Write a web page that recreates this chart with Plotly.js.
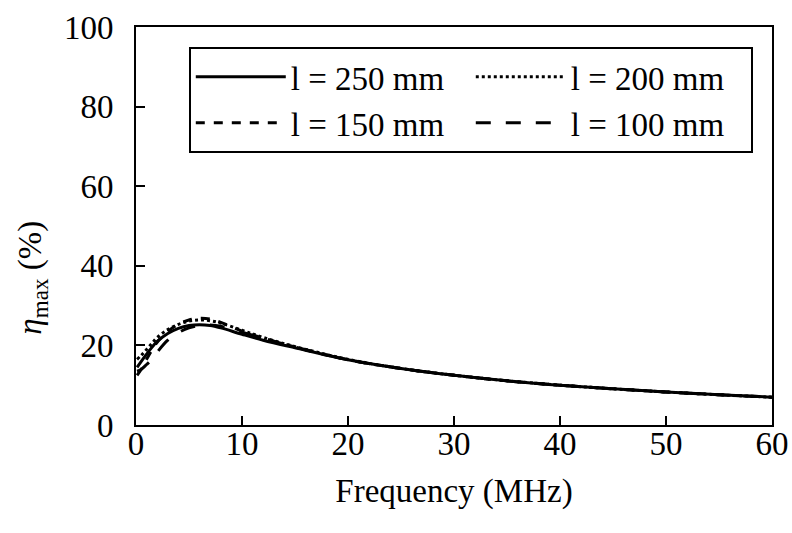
<!DOCTYPE html>
<html>
<head>
<meta charset="utf-8">
<script src="https://cdn.plot.ly/plotly-3.0.1.min.js"></script>
<style>html,body{margin:0;padding:0;background:#fff;}#chart{width:792px;height:533px;}</style>
</head>
<body>
<div id="chart"></div>
<script>
// Frequency (MHz)
const freq = [0.1, 0.5, 1, 1.5, 2, 3, 4, 5, 6, 7, 8, 10, 12, 15, 20, 25, 30, 35, 40, 45, 50, 55, 60];
// eta_max (%) for each length
const eta250 = [14.5, 16.0, 17.8, 19.5, 21.0, 23.0, 24.3, 25.0, 25.2, 25.0, 24.4, 22.8, 21.3, 19.4, 16.4, 14.2, 12.5, 11.1, 10.0, 9.1, 8.3, 7.6, 7.0];
const eta200 = [16.5, 17.5, 19.0, 20.5, 22.0, 24.0, 25.3, 26.1, 26.4, 26.2, 25.6, 23.8, 22.0, 19.7, 16.5, 14.2, 12.5, 11.1, 10.0, 9.1, 8.3, 7.6, 7.0];
const eta150 = [12.5, 14.0, 16.5, 18.8, 20.8, 23.5, 25.3, 26.4, 26.8, 26.6, 25.8, 23.6, 21.8, 19.6, 16.4, 14.2, 12.5, 11.1, 10.0, 9.1, 8.3, 7.6, 7.0];
const eta100 = [13.5, 14.0, 15.2, 16.5, 18.3, 21.3, 23.2, 24.4, 25.0, 25.1, 24.8, 23.3, 21.8, 19.6, 16.4, 14.2, 12.5, 11.1, 10.0, 9.1, 8.3, 7.6, 7.0];
const names = ['l = 250 mm', 'l = 200 mm', 'l = 150 mm', 'l = 100 mm'];
const xTicks = [0, 10, 20, 30, 40, 50, 60];
const yTicks = [0, 20, 40, 60, 80, 100];

const font = {family: 'Liberation Serif, Times New Roman, serif', size: 33, color: '#000'};
const series = [eta250, eta200, eta150, eta100];
const dashes = ['solid', 'dot', 'dash', 'longdash'];
const traces = series.map((s, i) => ({
  x: freq, y: s, name: names[i], type: 'scatter', mode: 'lines',
  line: {color: '#000', width: 3, dash: dashes[i], shape: 'spline', smoothing: 1}
}));

const layout = {
  width: 792, height: 533,
  margin: {l: 136, r: 20, t: 27, b: 108},
  paper_bgcolor: '#fff', plot_bgcolor: '#fff',
  font: font,
  showlegend: true,
  legend: {
    x: 0.083, y: 0.95, xanchor: 'left', yanchor: 'top',
    orientation: 'h', entrywidth: 175, entrywidthmode: 'pixels',
    itemwidth: 90,
    bordercolor: '#000', borderwidth: 2, bgcolor: '#fff',
    font: font, tracegroupgap: 0
  },
  xaxis: {
    range: [0, 60], tickvals: xTicks, ticktext: xTicks.map(String),
    ticks: 'inside', ticklen: 9, tickwidth: 2, tickcolor: '#000',
    showline: true, linecolor: '#000', linewidth: 2, mirror: true,
    showgrid: false, zeroline: false,
    ticklabelstandoff: -12,
    title: {text: 'Frequency (MHz)', font: font, standoff: 18}
  },
  yaxis: {
    range: [0, 100], tickvals: yTicks, ticktext: yTicks.map(String),
    ticks: 'inside', ticklen: 9, tickwidth: 2, tickcolor: '#000',
    showline: true, linecolor: '#000', linewidth: 2, mirror: true,
    showgrid: false, zeroline: false,
    ticklabelstandoff: 14
  },
  annotations: [{
    text: '<i>η</i><sub>max</sub> (%)', xref: 'paper', yref: 'paper',
    x: -0.162, y: 0.37, xanchor: 'center', yanchor: 'middle',
    textangle: -90, showarrow: false, font: font
  }]
};
Plotly.newPlot('chart', traces, layout, {displayModeBar: false, staticPlot: true});
</script>
</body>
</html>
